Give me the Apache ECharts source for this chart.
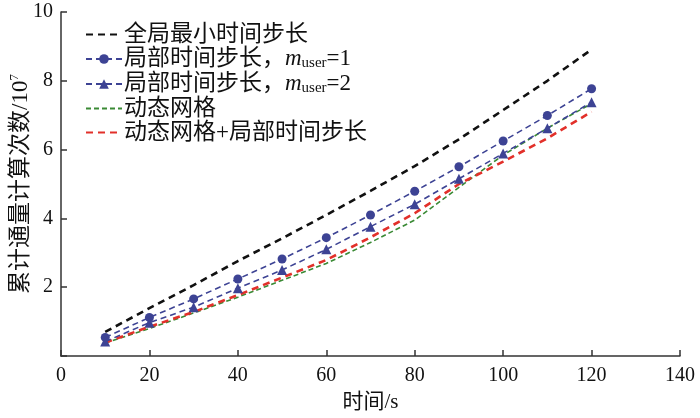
<!DOCTYPE html>
<html><head><meta charset="utf-8">
<script src="https://cdn.jsdelivr.net/npm/echarts@6/dist/echarts.min.js"></script>
<style>html,body{margin:0;padding:0;background:#fff}#c{width:700px;height:418px}</style>
</head><body><div id="c"></div>
<script>
var times = [10,20,30,40,50,60,70,80,90,100,110,120];
var globalMin = [0.70,1.39,2.06,2.76,3.42,4.10,4.80,5.52,6.30,7.15,8.00,8.91];
var localM1 = [0.54,1.12,1.66,2.24,2.82,3.44,4.10,4.79,5.50,6.25,6.99,7.77];
var localM2 = [0.42,0.97,1.42,1.97,2.50,3.10,3.76,4.41,5.15,5.89,6.62,7.38];
var dynGrid = [0.38,0.80,1.25,1.71,2.20,2.69,3.30,3.95,4.90,5.84,6.62,7.34];
var dynLocal = [0.39,0.85,1.28,1.77,2.28,2.79,3.45,4.15,5.00,5.65,6.33,7.10];
var names = ['全局最小时间步长','局部时间步长，m1','局部时间步长，m2','动态网格','动态网格+局部时间步长'];
var xTicks = [0,20,40,60,80,100,120,140];
var yTicks = [2,4,6,8,10];

function pairs(v){return times.map(function(t,i){return [t,v[i]];});}
var FONT = '"Liberation Serif","Noto Sans CJK SC",serif';
var chart = echarts.init(document.getElementById('c'));
function ser(name, vals, color, width, dash, symbol){
  return {name:name,type:'line',data:pairs(vals),symbol:symbol||'circle',
    symbolSize:symbol==='triangle'?10:9,
    showSymbol:!!symbol,
    itemStyle:{color:symbol?color:'rgba(0,0,0,0)'},
    lineStyle:{color:color,width:width,type:dash},z:symbol?3:2};
}
chart.setOption({
  animation:false,
  grid:{left:61,right:20,top:12,bottom:62,outerBoundsMode:'none',containLabel:false},
  legend:{
    left:80,top:18,orient:'vertical',itemGap:1,itemWidth:36,itemHeight:12,
    data:names,
    formatter:function(n){
      if(n==='局部时间步长，m1') return '局部时间步长，{i|m}{s|user}=1';
      if(n==='局部时间步长，m2') return '局部时间步长，{i|m}{s|user}=2';
      return n;
    },
    textStyle:{fontFamily:FONT,fontSize:23,lineHeight:23,color:'#111',padding:[0,0,0,-3],
      rich:{i:{fontStyle:'italic',fontFamily:FONT,fontSize:23,lineHeight:23,color:'#111'},
            s:{fontFamily:FONT,fontSize:15,lineHeight:23,color:'#111',padding:[9,0,0,0]}}}
  },
  xAxis:{type:'value',min:0,max:140,interval:20,
    name:'时间/s',nameLocation:'middle',nameGap:36,nameMoveOverlap:false,
    nameTextStyle:{fontFamily:FONT,fontSize:21,color:'#111'},
    axisLine:{lineStyle:{color:'#333',width:1.5}},
    axisTick:{inside:true,length:6,lineStyle:{color:'#333',width:1.5}},
    axisLabel:{fontFamily:FONT,fontSize:20,color:'#111',margin:10,
      formatter:function(v){return xTicks.indexOf(v)>=0?String(v):'';}},
    splitLine:{show:false}},
  yAxis:{type:'value',min:0,max:10,interval:2,
    name:'{a|累计通量计算次数/10}{b|7}',nameLocation:'middle',nameGap:28,nameRotate:90,nameMoveOverlap:false,
    nameTextStyle:{rich:{a:{fontFamily:FONT,fontSize:23,color:'#111'},
      b:{fontFamily:FONT,fontSize:13,color:'#111',padding:[0,0,12,0]}}},
    axisLine:{show:true,lineStyle:{color:'#333',width:1.5}},
    axisTick:{show:true,inside:true,length:6,lineStyle:{color:'#333',width:1.5}},
    axisLabel:{fontFamily:FONT,fontSize:20,color:'#111',margin:8,
      formatter:function(v){return yTicks.indexOf(v)>=0?String(v):'';}},
    splitLine:{show:false}},
  series:[
    ser(names[0],globalMin,'#111111',2.6,[7,5]),
    ser(names[1],localM1,'#3d4394',1.6,[6,4],'circle'),
    ser(names[2],localM2,'#3d4394',1.6,[6,4],'triangle'),
    ser(names[3],dynGrid,'#3a8a35',1.6,[5,3]),
    ser(names[4],dynLocal,'#e2302a',2.6,[7,5])
  ]
});
</script></body></html>
